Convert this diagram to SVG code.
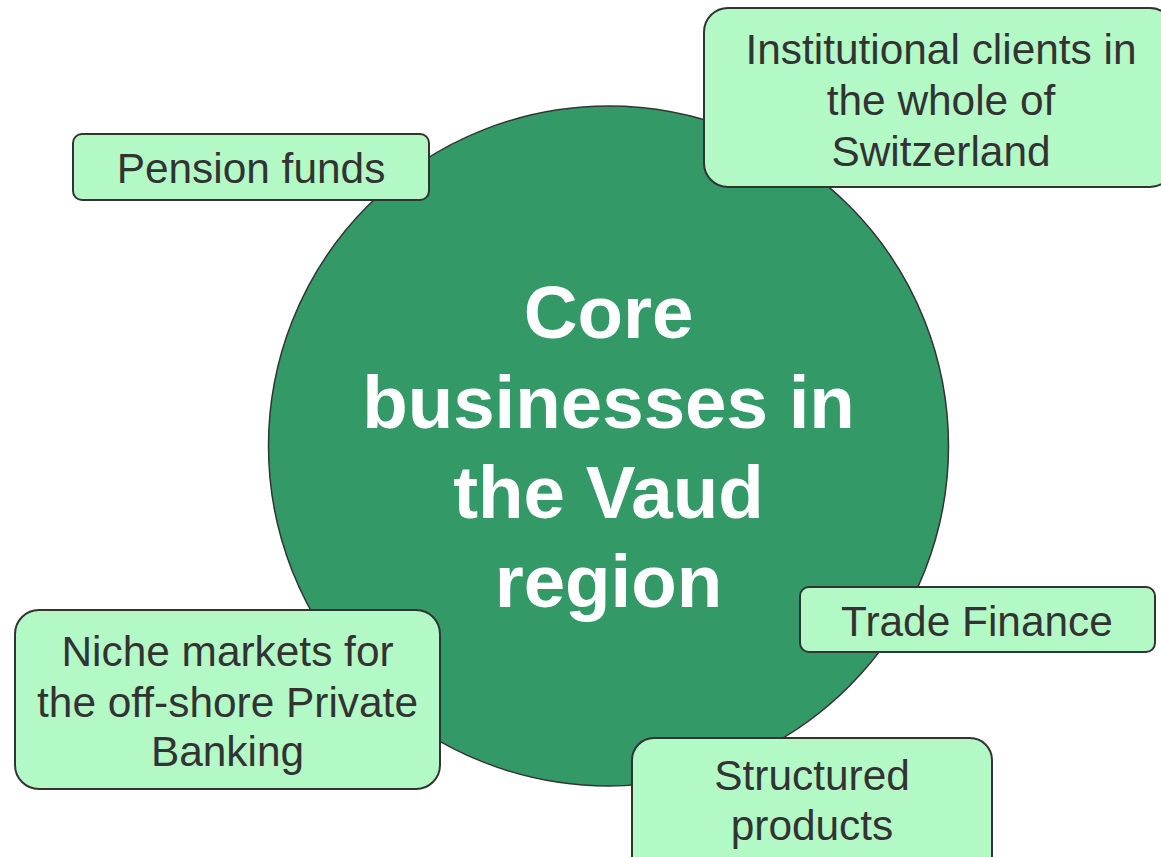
<svg xmlns="http://www.w3.org/2000/svg" width="1161" height="857" viewBox="0 0 1161 857">
  <style>
    .hub { fill: #339966; stroke: #333333; stroke-width: 1.5; }
    .hub-label { font-family: "Liberation Sans", Arial, sans-serif; font-weight: bold; font-size: 74.5px; fill: #ffffff; text-anchor: middle; }
    .box { fill: #b3f9c6; stroke: #333333; stroke-width: 2; }
    .label { font-family: "Liberation Sans", Arial, sans-serif; font-size: 42.4px; fill: #333333; text-anchor: middle; }
  </style>
  <rect width="1161" height="857" fill="#ffffff"/>

  <!-- central circle -->
  <g id="core">
    <circle class="hub" cx="608.5" cy="446" r="340"/>
    <text class="hub-label" x="608.5" y="338">Core</text>
    <text class="hub-label" x="608.5" y="428">businesses in</text>
    <text class="hub-label" x="608.5" y="518">the Vaud</text>
    <text class="hub-label" x="608.5" y="607">region</text>
  </g>

  <!-- no connectors in this diagram -->
  <g id="connectors"></g>

  <g id="pension-funds">
    <rect class="box" x="73" y="134" width="356" height="66" rx="9"/>
    <text class="label" x="251" y="183">Pension funds</text>
  </g>

  <g id="institutional-clients">
    <rect class="box" x="704" y="8" width="470" height="179" rx="24"/>
    <text class="label" x="941" y="64">Institutional clients in</text>
    <text class="label" x="941" y="115">the whole of</text>
    <text class="label" x="941" y="166">Switzerland</text>
  </g>

  <g id="niche-markets">
    <rect class="box" x="15" y="610" width="425" height="179" rx="24"/>
    <text class="label" x="227.5" y="666">Niche markets for</text>
    <text class="label" x="227.5" y="717">the off-shore Private</text>
    <text class="label" x="227.5" y="766">Banking</text>
  </g>

  <g id="trade-finance">
    <rect class="box" x="800" y="587" width="355" height="65" rx="9"/>
    <text class="label" x="977" y="636">Trade Finance</text>
  </g>

  <g id="structured-products">
    <rect class="box" x="632" y="738" width="360" height="140" rx="22"/>
    <text class="label" x="812" y="790">Structured</text>
    <text class="label" x="812" y="840">products</text>
  </g>
</svg>
